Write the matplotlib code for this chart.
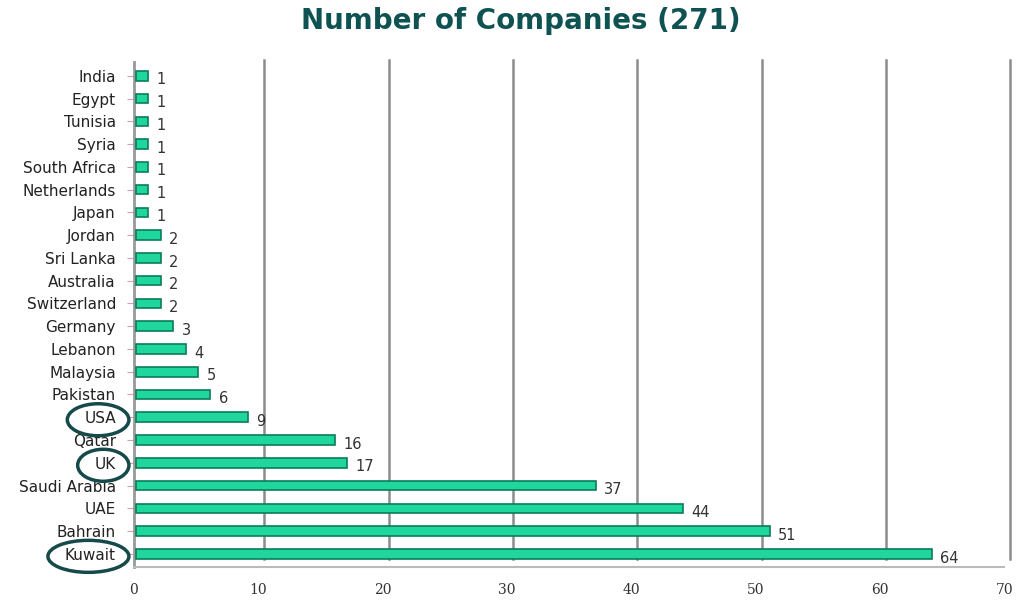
import numpy as np
import matplotlib.pyplot as plt
from matplotlib.patches import Ellipse
from matplotlib.transforms import ScaledTranslation

countries = ['Kuwait', 'Bahrain', 'UAE', 'Saudi Arabia', 'UK', 'Qatar', 'USA',
             'Pakistan', 'Malaysia', 'Lebanon', 'Germany', 'Switzerland',
             'Australia', 'Sri Lanka', 'Jordan', 'Japan', 'Netherlands',
             'South Africa', 'Syria', 'Tunisia', 'Egypt', 'India']
companies = [64, 51, 44, 37, 17, 16, 9, 6, 5, 4, 3, 2, 2, 2, 2, 1, 1, 1, 1, 1, 1, 1]
circled = ['USA', 'UK', 'Kuwait']
xticks = [0, 10, 20, 30, 40, 50, 60, 70]

fig = plt.figure(figsize=(10.18, 6.03), dpi=100)
ax = fig.add_axes([0.1316, 0.060, 0.855, 0.837])

y = np.arange(len(countries))
ax.barh(y, companies, height=0.42, left=0.15, color='#1fd69c',
        edgecolor='#0b7d5b', linewidth=1.2, zorder=3)

for yi, v in zip(y, companies):
    ax.annotate(str(v), (v + 0.15, yi), xytext=(6, -3), textcoords='offset points',
                va='center', ha='left', fontsize=10.5, color='#333333')

ax.set_xlim(0, 70)
ax.set_ylim(-0.57, 21.6)
ax.set_xticks(xticks)
ax.set_yticks(y)
ax.set_yticklabels(countries, fontsize=11, color='#222222')
ax.set_xticklabels([str(t) for t in xticks], fontsize=10, family='DejaVu Serif',
                   color='#333333')
ax.tick_params(axis='x', length=0, pad=12)
ax.tick_params(axis='y', length=5, color='#d8a0b0', pad=8)

# vertical gridlines, shifted right a little to mimic the 3D back wall
shift = ScaledTranslation(6 / 100, 2 / 100, fig.dpi_scale_trans)
for t in xticks[1:]:
    ax.plot([t, t], [-0.3, 21.6], color='#8c8c8c', lw=1.8, zorder=1,
            transform=ax.transData + shift, clip_on=False)

for s in ['top', 'right']:
    ax.spines[s].set_visible(False)
ax.spines['left'].set_color('#999999')
ax.spines['left'].set_linewidth(2)
ax.spines['bottom'].set_color('#bbbbbb')
ax.spines['bottom'].set_linewidth(1.5)

fig.text(0.512, 0.965, 'Number of Companies (271)', ha='center', va='center',
         fontsize=20, fontweight='bold', color='#0e5252')

# ellipses around highlighted tick labels
fig.canvas.draw()
renderer = fig.canvas.get_renderer()
for lab in ax.get_yticklabels():
    if lab.get_text() in circled:
        bb = lab.get_window_extent(renderer)
        cx, cy = (bb.x0 + bb.x1) / 2, (bb.y0 + bb.y1) / 2
        e = Ellipse((cx - 2, cy - 1), bb.width + 30, bb.height + 17,
                    transform=None, fill=False, edgecolor='#164a4a', lw=2.5)
        fig.add_artist(e)

fig.savefig('out.png', dpi=100)
